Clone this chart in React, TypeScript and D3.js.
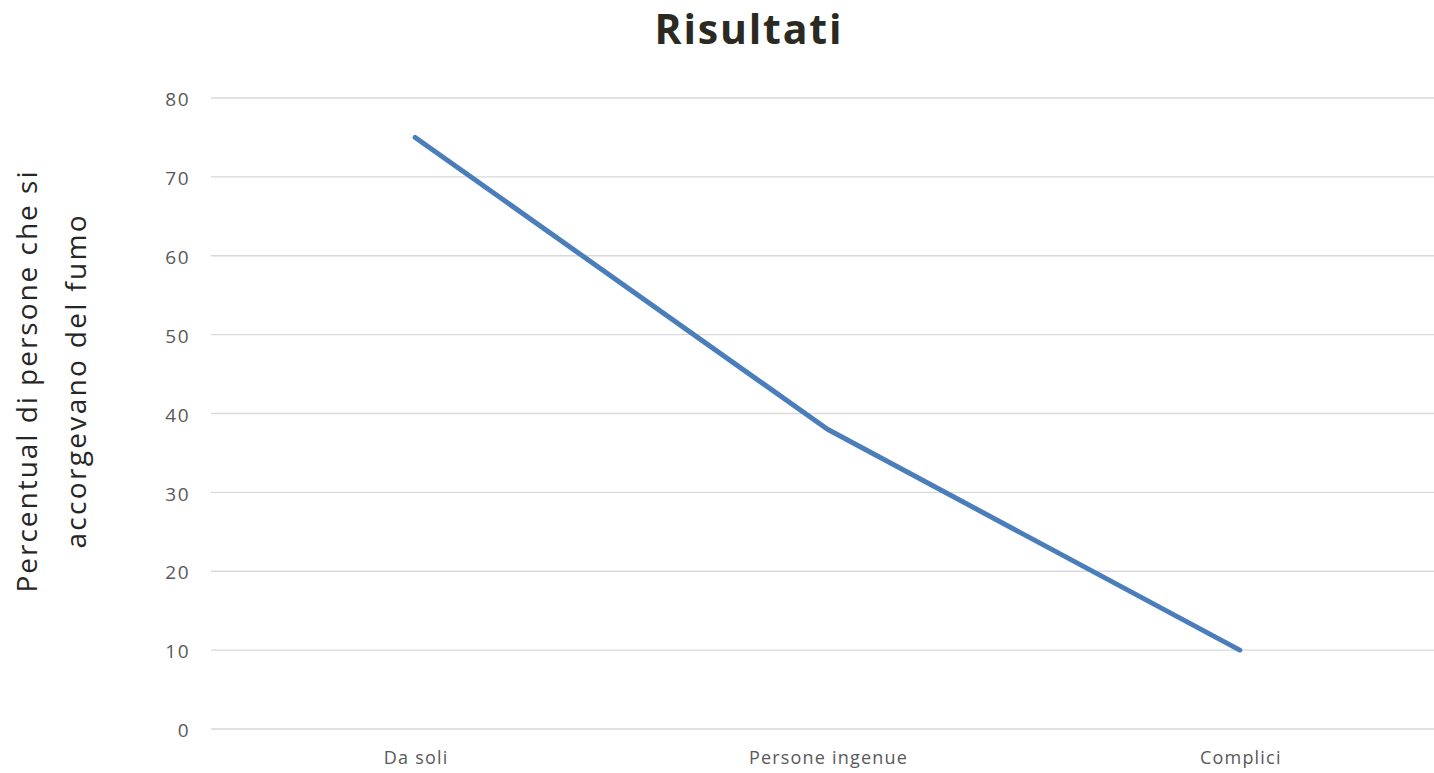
import React from 'react';
import * as d3 from 'd3';

const categories = ['Da soli', 'Persone ingenue', 'Complici'];
const values = [75, 38, 10];
const yTicks = [0, 10, 20, 30, 40, 50, 60, 70, 80];
const title = 'Risultati';
const yTitleLines = ['Percentual di persone che si', 'accorgevano del fumo'];

const W = 1434;
const H = 773;

const App: React.FC = () => {
  // plot area
  const left = 209;
  const right = 1446;
  const top = 98;
  const bottom = 729;

  const x = d3.scaleBand<string>().domain(categories).range([left, right]);
  const y = d3.scaleLinear().domain([0, 80]).range([bottom, top]);

  const line = d3
    .line<number>()
    .x((_, i) => (x(categories[i]) as number) + x.bandwidth() / 2)
    .y(d => y(d));

  const font = '"Open Sans", Lato, sans-serif';

  return (
    <div style={{ position: 'absolute', left: 0, top: 0 }}>
      <svg width={W} height={H} style={{ display: 'block', background: '#fff' }}>
        {/* title */}
        <text x={748} y={44} textAnchor="middle" fontFamily={font} fontWeight={700} fontSize={41}
          fill="#2b2a22" textLength={187} lengthAdjust="spacing">
          {title}
        </text>

        {/* gridlines */}
        {yTicks.map(t => (
          <line key={t} x1={211} x2={right} y1={y(t)} y2={y(t)} stroke="#d9d9d9" strokeWidth={1.3} />
        ))}

        {/* y tick labels */}
        {yTicks.map(t => (
          <text key={'l' + t} x={190} y={y(t)} dy="0.43em" textAnchor="end" fontFamily={font} fontSize={19}
            letterSpacing={1.5} fill="#595959">
            {t}
          </text>
        ))}

        {/* category labels */}
        {categories.map(c => (
          <text key={c} x={(x(c) as number) + x.bandwidth() / 2 + 1} y={764} textAnchor="middle" fontFamily={font}
            fontSize={18} letterSpacing={1.2} fill="#595959">
            {c}
          </text>
        ))}

        {/* y axis title */}
        <g transform="translate(0,382) rotate(-90)" fontFamily={font} fontSize={28} fill="#262626" textAnchor="middle">
          <text x={0} y={37} textLength={421} lengthAdjust="spacing">{yTitleLines[0]}</text>
          <text x={0} y={86} textLength={333} lengthAdjust="spacing">{yTitleLines[1]}</text>
        </g>

        {/* series */}
        <path d={line(values) || ''} fill="none" stroke="#4a7ebb" strokeWidth={5} strokeLinecap="round" strokeLinejoin="round" />
      </svg>
    </div>
  );
};

export default App;
